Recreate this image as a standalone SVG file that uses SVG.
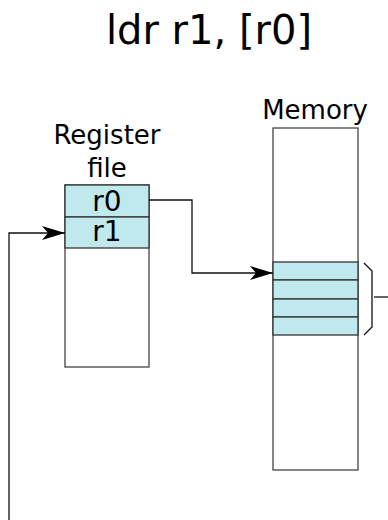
<svg xmlns="http://www.w3.org/2000/svg" width="388" height="520" viewBox="0 0 388 520">
<style>
text{font-family:"DejaVu Sans",sans-serif;fill:#000;text-anchor:middle}
.box{fill:#fff;stroke:#444;stroke-width:1.3}
.cell{fill:#c0e9ee;stroke:#333;stroke-width:1.3}
.wire{fill:none;stroke:#111;stroke-width:1.3}
</style>
<defs>
<marker id="ah" viewBox="0 0 23 14" refX="23" refY="7" markerWidth="23" markerHeight="14" markerUnits="userSpaceOnUse" orient="auto">
<path d="M0,0 L23,7 L0,14 L6,7 Z" fill="#000"/>
</marker>
</defs>
<text id="title" x="209" y="44" font-size="40">ldr r1, [r0]</text>
<g id="regfile">
<text x="107" y="144" font-size="26">Register</text>
<text x="107" y="177" font-size="26">file</text>
<rect class="box" x="65" y="185" width="84" height="182"/>
<rect class="cell" x="65" y="185" width="84" height="32"/>
<rect class="cell" x="65" y="217" width="84" height="31"/>
<text x="107" y="211" font-size="28">r0</text>
<text x="107" y="241" font-size="28">r1</text>
</g>
<g id="memory">
<text x="315" y="119" font-size="26">Memory</text>
<rect class="box" x="273" y="128" width="85" height="342"/>
<rect class="cell" x="273" y="262" width="85" height="18"/>
<rect class="cell" x="273" y="280" width="85" height="19"/>
<rect class="cell" x="273" y="299" width="85" height="18"/>
<rect class="cell" x="273" y="317" width="85" height="18"/>
<path class="wire" d="M364,263 L372,271 L372,327 L364,335"/>
</g>
<g id="connectors">
<path class="wire" d="M149,200 H192 V273 H273" marker-end="url(#ah)"/>
<path class="wire" d="M9,520 V233 H65" marker-end="url(#ah)"/>
<path class="wire" d="M374,297 H388"/>
</g>
</svg>
